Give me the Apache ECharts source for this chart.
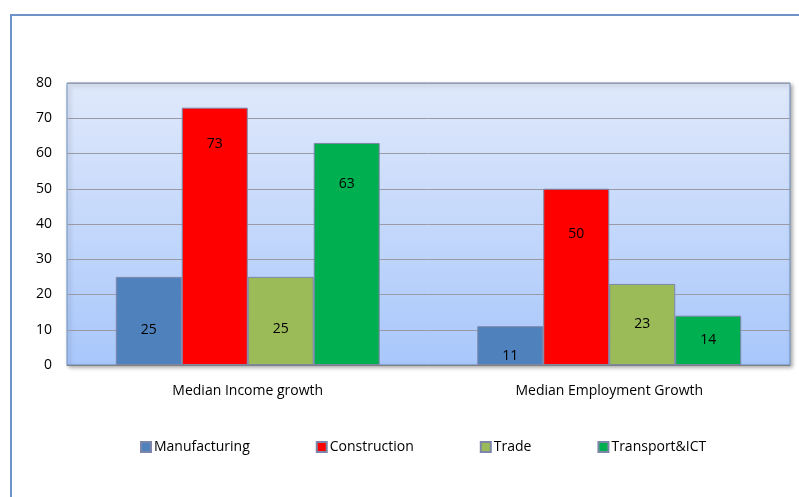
<!DOCTYPE html>
<html>
<head>
<meta charset="utf-8">
<script src="https://cdn.jsdelivr.net/npm/echarts@6/dist/echarts.min.js"></script>
<style>
html,body{margin:0;padding:0;background:#fff;}
#frame{position:absolute;left:10px;top:14px;width:820px;height:520px;border-left:2px solid #6d93c8;border-top:2px solid #6d93c8;}
#main{position:absolute;left:0;top:0;width:799px;height:497px;}
</style>
</head>
<body>
<div id="frame"></div>
<div id="main"></div>
<script>
const categories = ['Median Income growth', 'Median Employment Growth'];
const seriesNames = ['Manufacturing', 'Construction', 'Trade', 'Transport&ICT'];
const manufacturing = [25, 11];
const construction = [73, 50];
const trade = [25, 23];
const transport = [63, 14];
const yTicks = [0, 10, 20, 30, 40, 50, 60, 70, 80];

const colors = ['#4f81bd', '#ff0000', '#9bbb59', '#00b050'];
// label vertical offsets (style only), relative to bar centre
const labelShift = [[9, 10], [-92, -43], [8, 0], [-70, 0]];

const values = [manufacturing, construction, trade, transport];
const chart = echarts.init(document.getElementById('main'));
const font = 'Open Sans';
chart.setOption({
  animation: false,
  textStyle: { fontFamily: font },
  grid: {
    left: 67, right: 9, top: 83, bottom: 132,
    show: true,
    borderColor: '#6d8fc0', borderWidth: 1,
    backgroundColor: {
      type: 'linear', x: 0, y: 0, x2: 0, y2: 1,
      colorStops: [{ offset: 0, color: '#e0e9fb' }, { offset: 1, color: '#a8c7fb' }]
    },
    shadowColor: 'rgba(0,0,0,0.35)', shadowBlur: 4, shadowOffsetX: 2, shadowOffsetY: 2
  },
  legend: {
    data: seriesNames,
    left: 135, top: 435,
    itemWidth: 10, itemHeight: 10, itemGap: 66,
    icon: 'rect',
    textStyle: { fontFamily: font, fontSize: 14, color: '#000', padding: [0, 0, 0, -2] }
  },
  xAxis: {
    type: 'category',
    data: categories,
    axisLine: { show: true, lineStyle: { color: '#808080', width: 1 } },
    axisTick: { show: false },
    axisLabel: { fontFamily: font, fontSize: 14, color: '#000', margin: 19 },
    splitLine: { show: false }
  },
  yAxis: {
    type: 'value',
    min: yTicks[0], max: yTicks[yTicks.length - 1], interval: 10,
    axisLine: { show: false },
    axisTick: { show: false },
    axisLabel: { fontFamily: font, fontSize: 14, color: '#000', margin: 15 },
    splitLine: { lineStyle: { color: '#9a9aa6', width: 1 } }
  },
  series: seriesNames.map((name, i) => ({
    name: name,
    type: 'bar',
    barGap: '0%',
    barCategoryGap: '27%',
    itemStyle: { color: colors[i], borderColor: '#7d86a8', borderWidth: 1 },
    data: values[i].map((v, j) => ({
      value: v,
      label: { offset: [0, labelShift[i][j]] }
    })),
    label: {
      show: true, position: 'inside',
      fontFamily: font, fontSize: 14, color: '#000'
    }
  }))
});
</script>
</body>
</html>
